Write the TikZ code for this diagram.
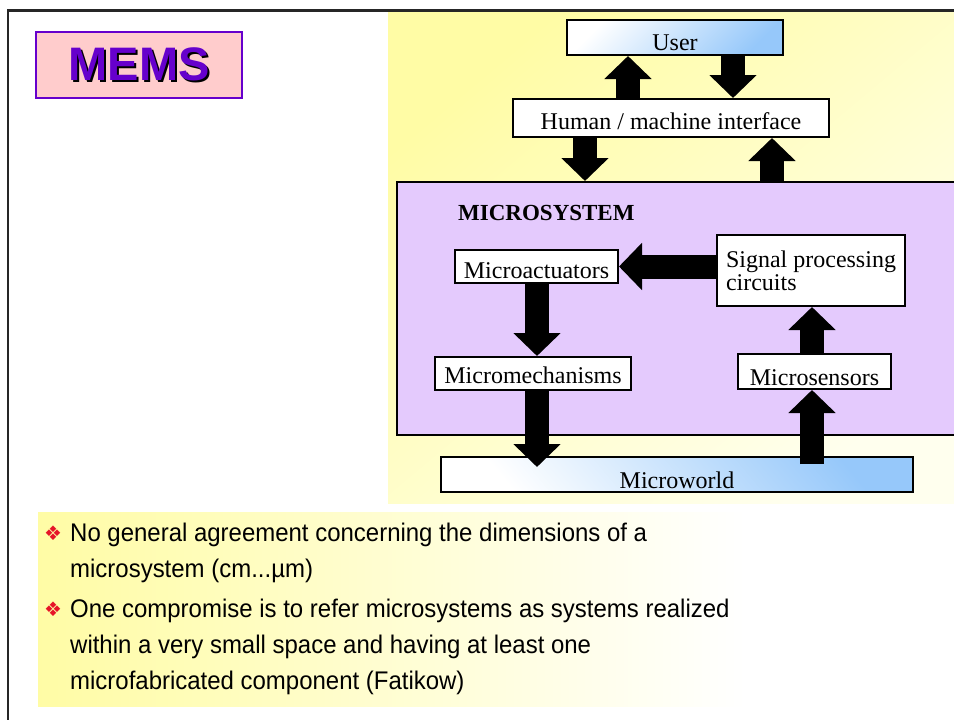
\documentclass[tikz,border=0pt]{standalone}
\usepackage{fontspec}
\setmainfont{Liberation Serif}
\newfontfamily\arialf{Liberation Sans}
\newfontfamily\narrowf[FakeStretch=0.94]{Liberation Sans}
\newfontfamily\djv{DejaVu Sans}
\usetikzlibrary{arrows.meta}
\definecolor{pinkfill}{RGB}{255,204,204}
\definecolor{memspurple}{RGB}{102,0,204}
\definecolor{lav}{RGB}{228,202,253}
\definecolor{ylw}{RGB}{255,252,165}
\definecolor{ylwlight}{RGB}{255,255,238}
\definecolor{lblue}{RGB}{150,200,250}
\definecolor{bulletred}{RGB}{230,20,40}
\begin{document}
\begin{tikzpicture}[x=1pt,y=-1pt,
  box/.style={draw=black, line width=2pt, fill=white, inner sep=0pt,
    font=\fontsize{24}{25}\selectfont},
  bl/.style={text height=#1, text depth=0pt},
  barrow/.style={line width=24pt, -{Triangle[length=23pt,width=46pt]}},
  bodytext/.style={anchor=base west, inner sep=0pt, font=\narrowf\fontsize{25.5}{28}\selectfont},
  bulletmark/.style={anchor=base west, inner sep=0pt, text=bulletred, font=\djv\fontsize{20}{20}\selectfont},
]
\useasboundingbox (0,0) rectangle (954,720);
\fill[white] (0,0) rectangle (954,720);

% backgrounds
\shade[top color=ylw, bottom color=ylwlight, shading angle=40] (388,12) rectangle (954,503);
\shade[left color=ylw, right color=white] (38,512) rectangle (745,706);

% frame
\draw[line width=2.7pt, black!85] (8,720) -- (8,10.7) -- (960,10.7);

% MEMS title
\node[draw=memspurple, line width=2pt, fill=pinkfill, minimum width=206pt, minimum height=66pt, inner sep=0pt,
  font=\arialf\bfseries\fontsize{47}{50}\selectfont, text=memspurple] (mems) at (139,65)
  {\makebox[0pt][l]{\hspace{2pt}\raisebox{-2pt}{\color{black}MEMS}}MEMS};

% microsystem container
\node[draw=black, line width=2pt, fill=lav, minimum width=563pt, minimum height=253pt, inner sep=0pt] (msys) at (678.5,308.5) {};
\node[anchor=base west, inner sep=0pt, font=\bfseries\fontsize{23}{24}\selectfont] (msyslabel) at (458,220) {MICROSYSTEM};

% boxes
\node[box, top color=white, bottom color=lblue, shading angle=45, minimum width=216pt, minimum height=35pt, bl=25pt] (user) at (675,37.5) {User};
\node[box, minimum width=316pt, minimum height=38pt, bl=22pt] (iface) at (671,118) {Human / machine interface};
\node[box, minimum width=163pt, minimum height=33pt, bl=23pt] (act) at (536.5,266.5) {Microactuators};
\node[box, minimum width=188pt, minimum height=71pt, align=left, font=\fontsize{24}{23}\selectfont] (sig) at (811,270.5) {Signal processing\\circuits};
\node[box, minimum width=196pt, minimum height=33pt, bl=19pt] (mech) at (533,373.5) {Micromechanisms};
\node[box, minimum width=153pt, minimum height=35pt, bl=27pt] (sens) at (814.5,371.5) {Microsensors};
\node[box, top color=lblue, bottom color=white, shading angle=-50, minimum width=472pt, minimum height=35pt, bl=27pt] (world) at (677,474.5) {Microworld};

% arrow columns
\coordinate (c1) at (628,0);
\coordinate (c2) at (733,0);
\coordinate (c3) at (585,0);
\coordinate (c4) at (772,0);
\coordinate (c5) at (537,0);
\coordinate (c6) at (812,0);

\draw[barrow] (iface.north -| c1) -- (user.south -| c1);
\draw[barrow] (user.south -| c2) -- (iface.north -| c2);
\draw[barrow] (iface.south -| c3) -- (msys.north -| c3);
\draw[barrow] (msys.north -| c4) -- (iface.south -| c4);
\draw[barrow] (sig.west |- act.east) -- (act.east);
\draw[barrow] (act.south -| c5) -- (mech.north -| c5);
\draw[barrow, shorten >=-11pt] (mech.south -| c5) -- (world.north -| c5);
\draw[barrow, shorten <=-8pt] (world.north -| c6) -- (sens.south -| c6);
\draw[barrow] (sens.north -| c6) -- (sig.south -| c6);

% bullet text
\node[bulletmark] (b1) at (44,540) {❖};
\node[bodytext] (t1) at (70,541) {No general agreement concerning the dimensions of a};
\node[bodytext] (t2) at (70,577) {microsystem (cm...µm)};
\node[bulletmark] (b2) at (44,616) {❖};
\node[bodytext] (t3) at (70,617) {One compromise is to refer microsystems as systems realized};
\node[bodytext] (t4) at (70,653) {within a very small space and having at least one};
\node[bodytext] (t5) at (70,689) {microfabricated component (Fatikow)};
\end{tikzpicture}
\end{document}
